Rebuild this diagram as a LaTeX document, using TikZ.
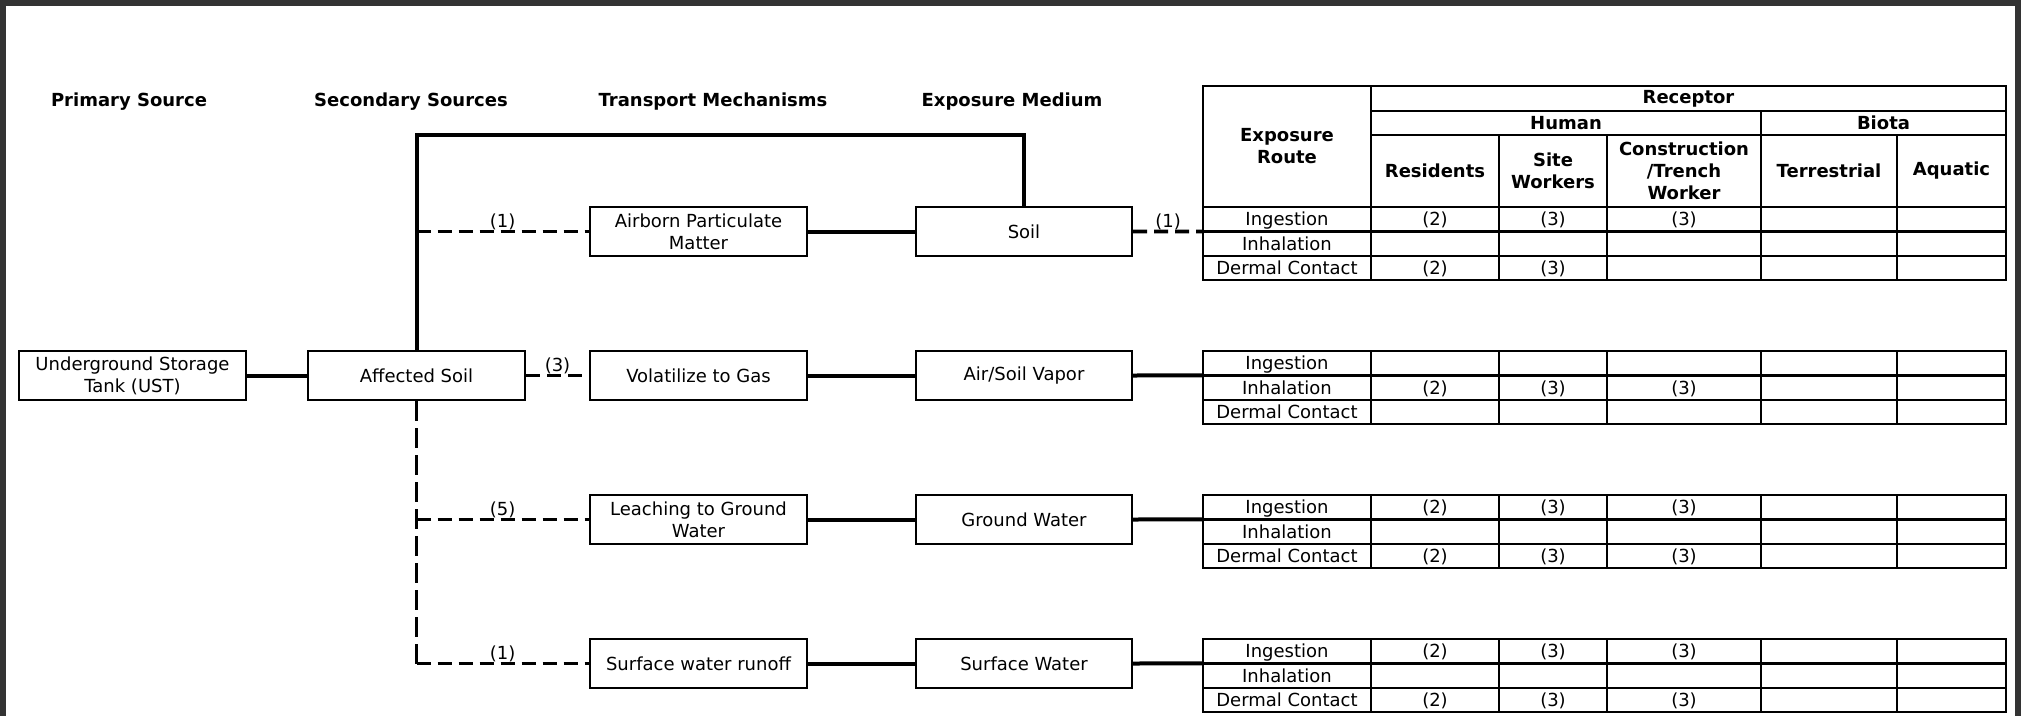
\documentclass[tikz,border=0pt]{standalone}
\usepackage{fontspec}
\setmainfont{DejaVu Sans}
\usetikzlibrary{positioning}

\tikzset{
  box/.style={draw, line width=2.2pt, minimum width=217pt, minimum height=49pt, inner sep=2pt, align=center, font=\fontsize{18}{22}\selectfont},
  head/.style={font=\fontsize{18}{22}\selectfont\bfseries},
  cell/.style={draw, line width=2.2pt, outer sep=0pt, minimum height=24.4pt, inner sep=0pt, text height=15pt, text depth=2pt, font=\fontsize{18}{22}\selectfont},
  hcell/.style={draw, line width=2.2pt, outer sep=0pt, inner sep=0pt, align=center, font=\fontsize{18}{22}\selectfont\bfseries},
  conn/.style={line width=4pt},
  hdash/.style={line width=3.8pt, dash pattern=on 14pt off 7pt},
  vdash/.style={line width=2.6pt, dash pattern=on 20pt off 7pt},
  lbl/.style={midway, above, inner sep=0pt, font=\fontsize{18}{22}\selectfont}
}

\begin{document}
\begin{tikzpicture}[x=1pt, y=-1pt]
  \useasboundingbox (0,0) rectangle (2021,715);

  % frame
  \draw[line width=6pt, black!80] (3,3) rectangle (2018,760);

  % column titles
  \node[head] (tprim) at (129,102) {Primary Source};
  \node[head] (tsec) at (411,102) {Secondary Sources};
  \node[head] (ttrans) at (713,102) {Transport Mechanisms};
  \node[head] (tmed) at (1012,102) {Exposure Medium};

  % sources
  \node[box, minimum width=227pt] (ust) at (132.5,375.5) {Underground Storage\\Tank (UST)};
  \node[box] (affsoil) at (416.5,375.5) {Affected Soil};

  % transport
  \node[box] (trans1) at (698.5,231.5) {Airborn Particulate\\Matter};
  \node[box] (trans2) at (698.5,375.5) {Volatilize to Gas};
  \node[box] (trans3) at (698.5,519.5) {Leaching to Ground\\Water};
  \node[box] (trans4) at (698.5,663.5) {Surface water runoff};

  % medium
  \node[box, minimum width=216pt] (med1) at (1024,231.5) {Soil};
  \node[box, minimum width=216pt] (med2) at (1024,375.5) {Air/Soil Vapor};
  \node[box, minimum width=216pt] (med3) at (1024,519.5) {Ground Water};
  \node[box, minimum width=216pt] (med4) at (1024,663.5) {Surface Water};

  % table header
  \node[hcell, minimum width=168, minimum height=121] (hroute) at (1287,146.5) {Exposure\\Route};
  \node[hcell, minimum width=635, minimum height=25] (hrec) at (1688.5,98.5) {Receptor};
  \node[hcell, minimum width=390, minimum height=24] (hhum) at (1566,123) {Human};
  \node[hcell, minimum width=245, minimum height=24] (hbio) at (1883.5,123) {Biota};
  \foreach \x/\w/\lab [count=\c] in {1435/128/Residents, 1553/108/{Site\\Workers}, 1684/154/{Construction\\/Trench\\Worker}, 1829/136/Terrestrial, 1951.5/109/Aquatic}
    \node[hcell, minimum width=\w, minimum height=72] (hcol\c) at (\x,171) {\lab};

  % table rows
  \foreach \g/\t in {1/207,2/351,3/495,4/639}
    \foreach \r/\lab [count=\k from 0] in {i/Ingestion,h/Inhalation,d/Dermal Contact} {
      \node[cell, minimum width=168] (\r\g) at (1287,\t+12.2+24.4*\k) {\lab};
      \foreach \x/\w [count=\c] in {1435/128,1553/108,1684/154,1829/136,1951.5/109}
        \node[cell, minimum width=\w] (\r\g-\c) at (\x,\t+12.2+24.4*\k) {};
    }

  % table values
  \foreach \c/\v in {i1-1/2,i1-2/3,i1-3/3,d1-1/2,d1-2/3,
                     h2-1/2,h2-2/3,h2-3/3,
                     i3-1/2,i3-2/3,i3-3/3,d3-1/2,d3-2/3,d3-3/3,
                     i4-1/2,i4-2/3,i4-3/3,d4-1/2,d4-2/3,d4-3/3}
    \node[cell, draw=none] (v\c) at (\c) {(\v)};

  % connectors
  \draw[conn] (ust) -- (affsoil);
  \coordinate (ctop) at (700,135);
  \draw[conn] (affsoil.north) |- (ctop) -| (med1.north);
  \coordinate (c4) at (affsoil |- trans4);
  \draw[vdash] (affsoil.south) -- (c4);
  \draw[hdash] (affsoil |- trans1) -- node[lbl] (l1) {(1)} (trans1);
  \draw[hdash] (affsoil) -- node[lbl] (l2) {(3)} (trans2);
  \draw[hdash] (affsoil |- trans3) -- node[lbl] (l3) {(5)} (trans3);
  \draw[hdash] (c4) -- node[lbl] (l4) {(1)} (trans4);

  \foreach \n in {1,...,4}
    \draw[conn] (trans\n) -- (med\n);
  \draw[hdash] (med1.east) -- node[lbl] (l5) {(1)} (i1.south west);
  \foreach \n in {2,3,4}
    \draw[conn] (med\n.east) -- (i\n.south west);
\end{tikzpicture}
\end{document}
